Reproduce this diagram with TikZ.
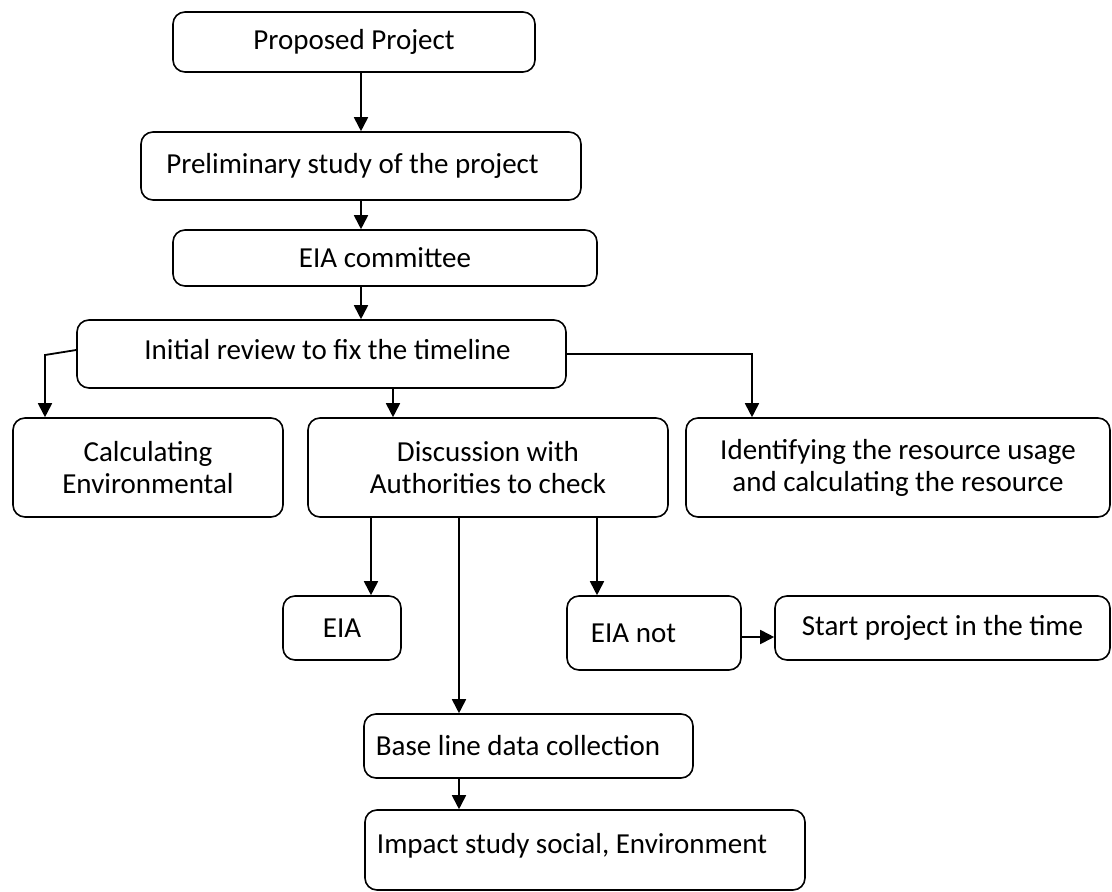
\documentclass[tikz,border=0pt]{standalone}
\usepackage{fontspec}
\setmainfont{Carlito}
\usetikzlibrary{arrows.meta}

\tikzset{
  box/.style={draw=black, line width=1.6pt, rounded corners=12pt, inner sep=0pt, align=center,
    font=\fontsize{29}{32}\selectfont},
  arr/.style={line width=1.8pt, -{Triangle[length=14pt,width=14pt]}}
}

\begin{document}
\begin{tikzpicture}[x=1pt,y=-1pt]
    \useasboundingbox (0,0) rectangle (1112,892);
    % top column
    \node[box, minimum width=362pt, minimum height=60pt] (prop) at (354,42) {Proposed Project};
    \node[box, minimum width=440pt, minimum height=68pt] (prel) at (361,166) {Preliminary study of the project\hspace*{17pt}};
    \node[box, minimum width=424pt, minimum height=56pt, text depth=-8pt] (com) at (385,258) {EIA committee};
    \node[box, minimum width=489pt, minimum height=68pt, text depth=10pt] (init) at (321.5,354) {\hspace*{12pt}Initial review to fix the timeline};
    % second row
    \node[box, minimum width=270pt, minimum height=99pt] (calc) at (148,467.5) {Calculating\\Environmental};
    \node[box, minimum width=360pt, minimum height=99pt] (disc) at (488,467.5) {Discussion with\\Authorities to check};
    \node[box, minimum width=424pt, minimum height=99pt] (ident) at (898,467.5) {Identifying the resource usage\\and calculating the resource};
    % third row
    \node[box, minimum width=118pt, minimum height=64pt] (eia) at (342,628) {EIA};
    \node[box, minimum width=174pt, minimum height=74pt] (eianot) at (654,633) {EIA not\hspace*{41pt}};
    \node[box, minimum width=335pt, minimum height=64pt] (start) at (942.5,628) {Start project in the time};
    % bottom
    \node[box, minimum width=329pt, minimum height=64pt] (base) at (528.5,746) {Base line data collection\hspace*{21pt}};
    \node[box, minimum width=440pt, minimum height=80pt, text depth=14pt] (imp) at (585,850) {Impact study social, Environment\hspace*{26pt}};

    \coordinate (sp) at (361,0);
    \coordinate (lk) at (45,355);
    \coordinate (dk) at (393,0);
    \coordinate (rk) at (752,354);

    \draw[arr] (sp |- prop.south) -- (sp |- prel.north);
    \draw[arr] (sp |- prel.south) -- (sp |- com.north);
    \draw[arr] (sp |- com.south) -- (sp |- init.north);
    \draw[arr] ([yshift=4pt]init.west) -- (lk) -- (lk |- calc.north);
    \draw[arr] (dk |- init.south) -- (dk |- disc.north);
    \draw[arr] (init.east) -- (rk) -- (rk |- ident.north);
    \draw[arr] ([xshift=-117pt]disc.south) -- ([xshift=-117pt]disc.south |- eia.north);
    \draw[arr] ([xshift=-29pt]disc.south) -- ([xshift=-29pt]disc.south |- base.north);
    \draw[arr] ([xshift=109pt]disc.south) -- ([xshift=109pt]disc.south |- eianot.north);
    \draw[arr] ([yshift=-4pt]eianot.east) -- ([yshift=-4pt]eianot.east -| start.west);
    \draw[arr] ([xshift=-29pt]disc.south |- base.south) -- ([xshift=-29pt]disc.south |- imp.north);
\end{tikzpicture}
\end{document}
